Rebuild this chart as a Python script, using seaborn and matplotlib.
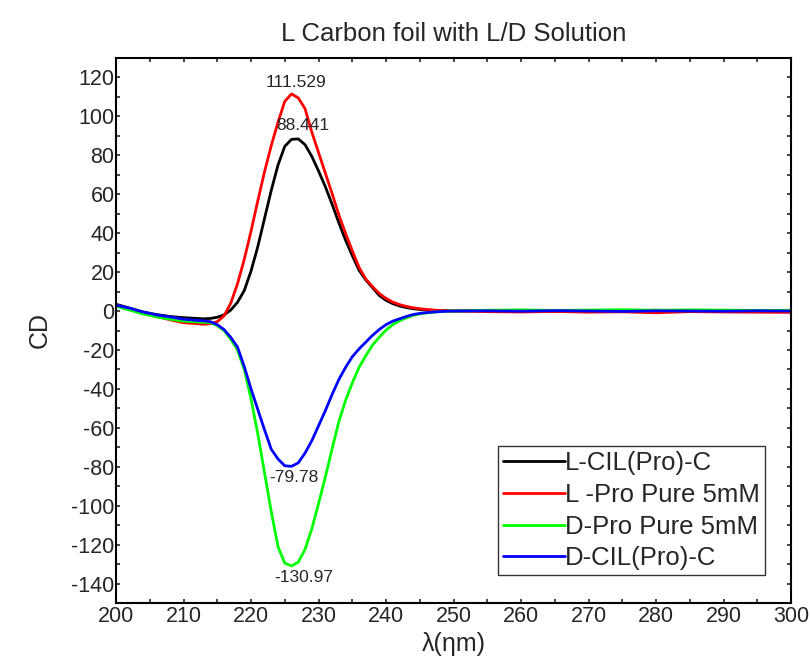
import matplotlib
matplotlib.use("Agg")
import matplotlib.pyplot as plt
from matplotlib.ticker import MultipleLocator
import seaborn as sns
import pandas as pd

# wavelengths (nm), shared by all four spectra
wavelength = [200, 202, 204, 206, 208, 210, 212, 213, 214, 215, 216, 217, 218, 219,
              220, 221, 222, 223, 224, 225, 226, 227, 228, 229, 230, 231, 232, 233,
              234, 235, 236, 237, 238, 239, 240, 241, 242, 243, 244, 245, 246, 247,
              248, 249, 250, 255, 260, 265, 270, 275, 280, 285, 290, 295, 300]

l_cil = [3.5, 1.5, -0.5, -1.8, -2.8, -3.4, -3.8, -4.0, -3.8, -3.2, -2.0, 0.5, 4.5, 10.5,
         20.5, 33.0, 47.5, 62.0, 75.0, 84.6, 88.2, 88.441, 85.5, 79.5, 72.0, 64.0, 55.0, 45.5,
         36.5, 28.5, 21.0, 16.0, 12.0, 8.0, 5.5, 3.8, 2.6, 1.8, 1.2, 0.8, 0.5, 0.3,
         0.2, 0.1, 0.0, 0.3, 0.1, -0.2, 0.0, 0.2, 0.4, 0.1, -0.1, 0.2, 0.0]

l_pro = [3.0, 1.0, -1.0, -2.8, -4.5, -6.0, -6.5, -6.8, -6.5, -5.5, -2.5, 4.0, 14.0, 26.5,
         41.0, 56.5, 71.5, 85.0, 97.0, 107.7, 111.529, 109.5, 104.0, 92.0, 81.5, 71.0, 60.5, 49.5,
         40.0, 31.0, 22.5, 16.5, 12.5, 9.0, 6.5, 4.6, 3.3, 2.4, 1.7, 1.2, 0.8, 0.5,
         0.3, 0.1, 0.0, -0.3, -0.5, -0.2, -0.6, -0.4, -0.9, -0.3, -0.5, -0.6, -0.7]

d_pro = [2.5, 0.5, -1.5, -3.0, -4.2, -5.2, -5.6, -5.8, -6.0, -7.5, -10.0, -14.5, -20.0, -30.0,
         -45.0, -63.0, -83.0, -103.0, -121.0, -129.5, -130.97, -129.0, -122.5, -112.0, -99.0, -85.5, -71.0, -57.0,
         -46.0, -37.0, -29.0, -23.0, -17.5, -13.5, -9.8, -7.0, -5.0, -3.5, -2.3, -1.5, -1.0, -0.6,
         -0.3, -0.1, 0.0, 0.4, 0.6, 0.3, 0.5, 0.7, 0.4, 0.6, 0.5, 0.3, 0.4]

d_cil = [3.0, 1.5, -0.5, -2.0, -3.0, -4.2, -4.8, -5.0, -5.5, -7.0, -9.5, -13.5, -18.5, -28.5,
         -40.0, -50.5, -61.0, -71.0, -76.0, -79.5, -79.78, -78.0, -73.0, -66.7, -59.0, -51.3, -43.0, -35.3,
         -29.0, -23.5, -19.5, -16.0, -12.5, -9.5, -7.0, -5.2, -4.0, -2.8, -1.8, -1.2, -0.8, -0.5,
         -0.3, -0.1, 0.0, 0.1, -0.1, 0.2, 0.0, -0.2, 0.1, 0.0, -0.1, 0.1, 0.0]

labels = ["L-CIL(Pro)-C", "L -Pro Pure 5mM", "D-Pro Pure 5mM", "D-CIL(Pro)-C"]
colors = ["black", "red", "#00ff00", "blue"]

frames = []
for lab, vals in zip(labels, [l_cil, l_pro, d_pro, d_cil]):
    frames.append(pd.DataFrame({"wl": wavelength, "cd": vals, "sample": lab}))
df = pd.concat(frames, ignore_index=True)

sns.set_style("ticks")
plt.rcParams["font.family"] = ["Liberation Sans", "DejaVu Sans"]
plt.rcParams["axes.unicode_minus"] = False

fig = plt.figure(figsize=(8.1, 6.62), dpi=100)
ax = fig.add_axes([116 / 810, 1 - 603 / 662, 675 / 810, 545 / 662])

sns.lineplot(data=df, x="wl", y="cd", hue="sample", hue_order=labels,
             palette=dict(zip(labels, colors)), linewidth=2, ax=ax, sort=False)

ax.set_xlim(200, 300)
ax.set_ylim(-150, 130)
ax.xaxis.set_major_locator(MultipleLocator(10))
ax.xaxis.set_minor_locator(MultipleLocator(5))
ax.yaxis.set_major_locator(MultipleLocator(20))
ax.yaxis.set_minor_locator(MultipleLocator(10))
ax.tick_params(which="both", direction="in", top=True, right=True, width=1.2, labelsize=15.5)
ax.tick_params(which="major", length=3)
ax.tick_params(which="minor", length=3)
ax.tick_params(axis="y", pad=1)
ax.tick_params(axis="x", pad=2)
for s in ax.spines.values():
    s.set_linewidth(1.5)
    s.set_color("black")

ax.set_xlabel("λ(ηm)", fontsize=18, labelpad=4)
ax.set_ylabel("CD", fontsize=18, labelpad=14)
ax.set_title("L Carbon foil with L/D Solution", fontsize=18.5, pad=12)

# peak / trough value labels
def peak_label(vals, offset, va, fmt):
    if va == "top":
        i = min(range(len(vals)), key=lambda k: vals[k])
    else:
        i = max(range(len(vals)), key=lambda k: vals[k])
    ax.annotate(fmt, xy=(wavelength[i], vals[i]), xytext=offset,
                textcoords="offset points", ha="center", va=va, fontsize=12.5)

peak_label(l_pro, (3.5, 5), "baseline", "111.529")
peak_label(l_cil, (3.5, 6.5), "baseline", "88.441")
peak_label(d_cil, (1.5, -3), "top", "-79.78")
peak_label(d_pro, (9, -3), "top", "-130.97")

leg = ax.legend(loc="upper left", bbox_to_anchor=(0.566, 0.288), borderaxespad=0,
                fontsize=18.5, handlelength=2.4, handletextpad=0.0, labelspacing=0.3,
                borderpad=0.2, fancybox=False, framealpha=1)
leg.get_frame().set_edgecolor("#333333")
leg.get_frame().set_linewidth(1.0)
for line in leg.get_lines():
    line.set_linewidth(2)

fig.savefig("out.png", dpi=100)
